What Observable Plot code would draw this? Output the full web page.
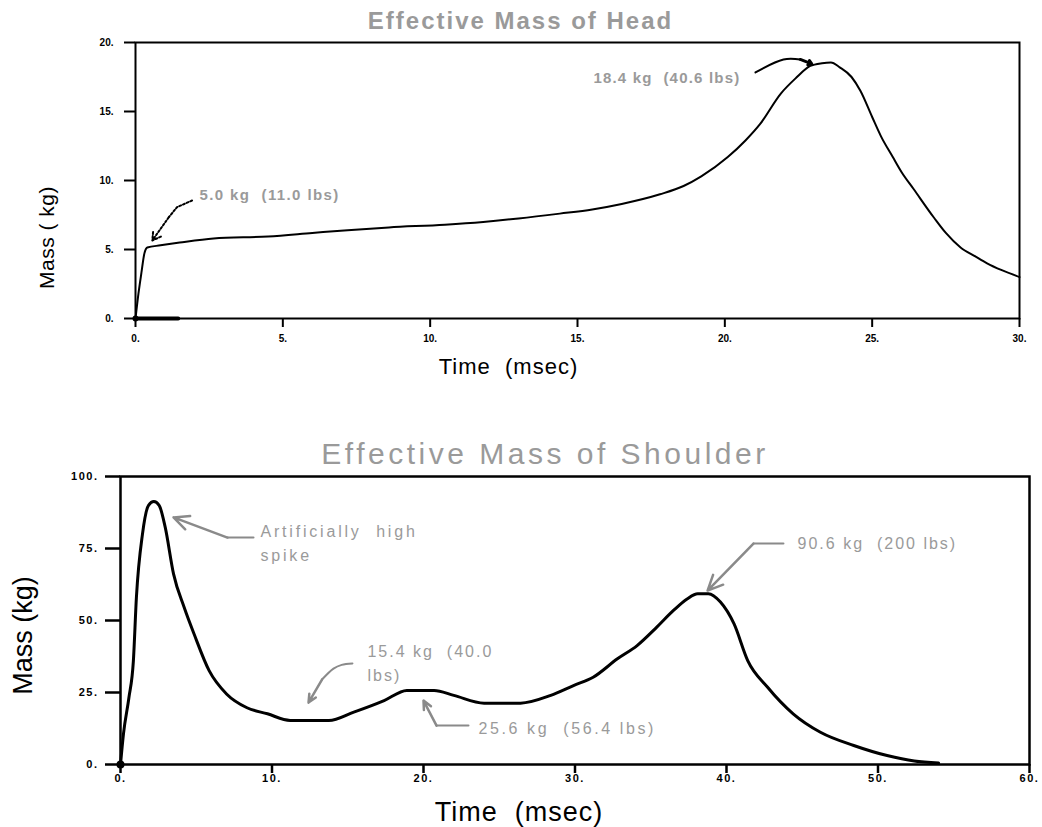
<!DOCTYPE html>
<html><head><meta charset="utf-8">
<script src="https://cdn.jsdelivr.net/npm/d3@7"></script>
<script src="https://cdn.jsdelivr.net/npm/@observablehq/plot@0.6"></script>
<style>
body{margin:0;background:#fff;width:1042px;height:827px;overflow:hidden;position:relative;font-family:"Liberation Sans",Arial,sans-serif}
#c1{position:absolute;left:0;top:0}
#c2{position:absolute;left:0;top:400px}
svg{overflow:visible}
</style></head><body>
<div id="c1"></div><div id="c2"></div>
<script>
// ---- Effective Mass of Head ----
const headTime = [0, 0.1, 0.2, 0.3, 0.4, 0.85, 1.5, 2.65, 4.5, 6.0, 7.2, 8.6, 10.5, 11.8, 13.0, 14.4, 15.5, 16.5, 17.8, 18.6, 19.2, 20.1, 20.7, 21.2, 21.9, 22.4, 22.9, 23.3, 23.6, 23.9, 24.3, 24.6, 25.0, 25.3, 25.7, 26.0, 26.4, 27.1, 27.5, 28.0, 28.5, 28.9, 29.4, 30.0];
const headMass = [0, 1.8, 3.3, 4.7, 5.15, 5.3, 5.5, 5.8, 5.95, 6.2, 6.4, 6.6, 6.8, 7.0, 7.25, 7.6, 7.9, 8.3, 9.0, 9.6, 10.3, 11.7, 12.9, 14.1, 16.3, 17.4, 18.3, 18.5, 18.55, 18.2, 17.5, 16.5, 14.6, 13.2, 11.7, 10.6, 9.4, 7.3, 6.2, 5.15, 4.5, 4.0, 3.5, 3.0];
const headBaseTime = [0, 1.45];
const headBaseMass = [0, 0];
const headTicksX = [0, 5, 10, 15, 20, 25, 30];
const headTicksY = [0, 5, 10, 15, 20];
const headTitle = "Effective Mass of Head";
const headXLabel = "Time\u00a0\u00a0(msec)";
const headYLabel = "Mass ( kg)";
const headNoteText = ["5.0 kg\u00a0\u00a0(11.0 lbs)", "18.4 kg\u00a0\u00a0(40.6 lbs)"];
const headNoteTime = [2.17, 15.54];
const headNoteMass = [8.9, 17.39];
const headArrow1Time = [1.92, 1.41, 1.13];
const headArrow1Mass = [8.55, 8.07, 7.34];
const headArrow1Head = [1.13, 7.34, 0.57, 5.65];
const headArrow2Time = [21.04, 21.99, 22.56];
const headArrow2Mass = [17.83, 18.77, 18.77];
const headArrow2Head = [22.56, 18.77, 22.95, 18.45];

// ---- Effective Mass of Shoulder ----
const shoulderTime = [0, 0.2, 0.55, 0.85, 1.05, 1.45, 1.85, 2.2, 2.55, 2.95, 3.5, 4.2, 4.85, 5.85, 7.0, 8.35, 9.7, 11.2, 13.75, 15.4, 17.4, 18.9, 20.7, 22.0, 24.0, 26.4, 28.4, 29.9, 31.2, 32.8, 34.1, 35.4, 36.5, 37.4, 38.1, 38.8, 39.6, 40.5, 41.4, 42.7, 44.4, 46.2, 48.4, 50.6, 52.4, 54.0];
const shoulderMass = [0, 10.8, 23, 36, 58, 80, 90, 91.3, 90, 82.4, 66.2, 54.6, 45.4, 32.6, 24.5, 19.7, 17.6, 15.3, 15.3, 18.2, 22.2, 25.7, 25.7, 24.0, 21.3, 21.3, 24.0, 27.4, 30.3, 36.7, 41.3, 47.7, 53.5, 57.5, 59.3, 59.3, 56.4, 48.8, 36.1, 26.9, 17.6, 11.2, 6.6, 3.1, 1.2, 0.5];
const shoulderTicksX = [0, 10, 20, 30, 40, 50, 60];
const shoulderTicksY = [0, 25, 50, 75, 100];
const shoulderTitle = "Effective Mass of Shoulder";
const shoulderXLabel = "Time\u00a0\u00a0(msec)";
const shoulderYLabel = "Mass (kg)";
const shoulderNoteText = ["Artificially\u00a0\u00a0high", "spike", "15.4 kg\u00a0\u00a0(40.0", "lbs)", "25.6 kg\u00a0\u00a0(56.4 lbs)", "90.6 kg\u00a0\u00a0(200 lbs)"];
const shoulderNoteTime = [9.24, 9.24, 16.3, 16.3, 23.63, 44.69];
const shoulderNoteMass = [80.6, 72.3, 39.2, 30.9, 12.2, 76.7];
const shoulderArrowTime = [[8.78, 7.06], [15.31, 14.6, 14.06, 13.3], [22.97, 20.86], [43.76, 41.78]];
const shoulderArrowMass = [[78.8, 78.8], [35.1, 34.6, 33.3, 29.5], [13.5, 13.5], [76.7, 76.7]];
const shoulderArrowHeads = [[7.06, 78.8, 3.5, 85.8], [13.3, 29.5, 12.41, 21.5], [20.86, 13.5, 20.0, 22.2], [41.78, 76.7, 38.75, 60.4]];

const fmt = d => d + ".";
const font = "'Liberation Sans', Arial, sans-serif";
const textGray = "#9a9a9a";
const lineGray = "#8a8a8a";

const head = headTime.map((t, i) => ({t, m: headMass[i]}));
const headBase = headBaseTime.map((t, i) => ({t, m: headBaseMass[i]}));
const headNotes = headNoteText.map((label, i) => ({label, t: headNoteTime[i], m: headNoteMass[i]}));
const hA1 = headArrow1Time.map((t, i) => ({t, m: headArrow1Mass[i]}));
const hA2 = headArrow2Time.map((t, i) => ({t, m: headArrow2Mass[i]}));

const p1 = Plot.plot({
  width: 1042, height: 380,
  marginLeft: 135, marginRight: 23, marginTop: 42, marginBottom: 62,
  style: {fontFamily: font, background: "transparent", overflow: "visible"},
  x: {domain: [0, 30]},
  y: {domain: [0, 20]},
  marks: [
    Plot.axisX(headTicksX, {tickFormat: fmt, tickSize: 9, tickPadding: 7, fontSize: 10, fontWeight: "bold", label: null, strokeWidth: 2}),
    Plot.axisY(headTicksY, {tickFormat: fmt, tickSize: 11, tickPadding: 11, fontSize: 10, fontWeight: "bold", label: null, strokeWidth: 2}),
    Plot.frame({stroke: "black", strokeWidth: 2}),
    Plot.line(headBase, {x: "t", y: "m", stroke: "black", strokeWidth: 4}),
    Plot.dot([headBase[0]], {x: "t", y: "m", r: 3, fill: "black"}),
    Plot.line(head, {x: "t", y: "m", stroke: "black", strokeWidth: 2, curve: "monotone-x"}),
    Plot.line(hA1, {x: "t", y: "m", stroke: "black", strokeWidth: 2, strokeDasharray: "2,2"}),
    Plot.arrow([headArrow1Head], {x1: d => d[0], y1: d => d[1], x2: d => d[2], y2: d => d[3], stroke: "black", strokeWidth: 2, headLength: 8, strokeDasharray: "2,2"}),
    Plot.line(hA2, {x: "t", y: "m", stroke: "black", strokeWidth: 2, curve: "catmull-rom"}),
    Plot.arrow([headArrow2Head], {x1: d => d[0], y1: d => d[1], x2: d => d[2], y2: d => d[3], stroke: "black", strokeWidth: 3, headLength: 9, headAngle: 70}),
    Plot.text(headNotes, {x: "t", y: "m", text: "label", textAnchor: "start", fontSize: 15, fontWeight: "bold", fill: textGray}),
    Plot.text([headTitle], {frameAnchor: "top", lineAnchor: "middle", textAnchor: "middle", dx: -57, dy: -21, fontSize: 24, fontWeight: "bold", fill: textGray}),
    Plot.text([headXLabel], {frameAnchor: "bottom", lineAnchor: "middle", textAnchor: "middle", dx: -69, dy: 48, fontSize: 22, fill: "black"}),
    Plot.text([headYLabel], {frameAnchor: "left", lineAnchor: "middle", textAnchor: "middle", rotate: -90, dx: -88, dy: 57, fontSize: 21, fill: "black"})
  ]
});
document.getElementById("c1").appendChild(p1);

const shoulder = shoulderTime.map((t, i) => ({t, m: shoulderMass[i]}));
const shoulderNotes = shoulderNoteText.map((label, i) => ({label, t: shoulderNoteTime[i], m: shoulderNoteMass[i]}));
const sLines = shoulderArrowTime.flatMap((ts, k) => ts.map((t, i) => ({k, t, m: shoulderArrowMass[k][i]})));

const p2 = Plot.plot({
  width: 1042, height: 427,
  marginLeft: 120, marginRight: 13, marginTop: 76, marginBottom: 63,
  style: {fontFamily: font, background: "transparent", overflow: "visible"},
  x: {domain: [0, 60]},
  y: {domain: [0, 100]},
  marks: [
    Plot.axisX(shoulderTicksX, {tickFormat: fmt, tickSize: 9, tickPadding: 1, fontSize: 11, fontWeight: "bold", label: null, strokeWidth: 2.5}),
    Plot.axisY(shoulderTicksY, {tickFormat: fmt, tickSize: 15, tickPadding: 7, fontSize: 11, fontWeight: "bold", label: null, strokeWidth: 2.5}),
    Plot.frame({stroke: "black", strokeWidth: 2.5}),
    Plot.dot([shoulder[0]], {x: "t", y: "m", r: 4, fill: "black"}),
    Plot.line(shoulder, {x: "t", y: "m", stroke: "black", strokeWidth: 3, curve: "monotone-x"}),
    Plot.line(sLines, {x: "t", y: "m", z: "k", stroke: lineGray, strokeWidth: 2, curve: "catmull-rom"}),
    Plot.arrow(shoulderArrowHeads, {x1: d => d[0], y1: d => d[1], x2: d => d[2], y2: d => d[3], stroke: lineGray, strokeWidth: 2.5, headLength: 10, headAngle: 50}),
    Plot.text(shoulderNotes, {x: "t", y: "m", text: "label", textAnchor: "start", fontSize: 16, fill: textGray}),
    Plot.text([shoulderTitle], {frameAnchor: "top", lineAnchor: "middle", textAnchor: "middle", dx: -30, dy: -22, fontSize: 30, fill: textGray}),
    Plot.text([shoulderXLabel], {frameAnchor: "bottom", lineAnchor: "middle", textAnchor: "middle", dx: -56, dy: 48, fontSize: 27, fill: "black"}),
    Plot.text([shoulderYLabel], {frameAnchor: "left", lineAnchor: "middle", textAnchor: "middle", rotate: -90, dx: -97, dy: 15, fontSize: 27, fill: "black"})
  ]
});
document.getElementById("c2").appendChild(p2);

// letter spacing to mimic the original typeface
const spacing = new Map([
  [headTitle, "2px"], [shoulderTitle, "3.5px"],
  [headNoteText[0], "1.4px"], [headNoteText[1], "1.2px"],
  [shoulderNoteText[0], "2.8px"], [shoulderNoteText[1], "2.8px"],
  [shoulderNoteText[2], "2px"], [shoulderNoteText[3], "2px"],
  [shoulderNoteText[4], "2.6px"], [shoulderNoteText[5], "2px"],
  [shoulderXLabel, "1px"], [headYLabel, "0.5px"]
]);
for (const svg of [p1, p2]) {
  d3.select(svg).selectAll("text").each(function () {
    const s = spacing.get(this.textContent);
    if (s) this.style.letterSpacing = s;
  });
}
d3.select(p2).selectAll("g[aria-label='y-axis tick label'] text, g[aria-label='x-axis tick label'] text").style("letter-spacing", "1.5px");
</script>
</body></html>
